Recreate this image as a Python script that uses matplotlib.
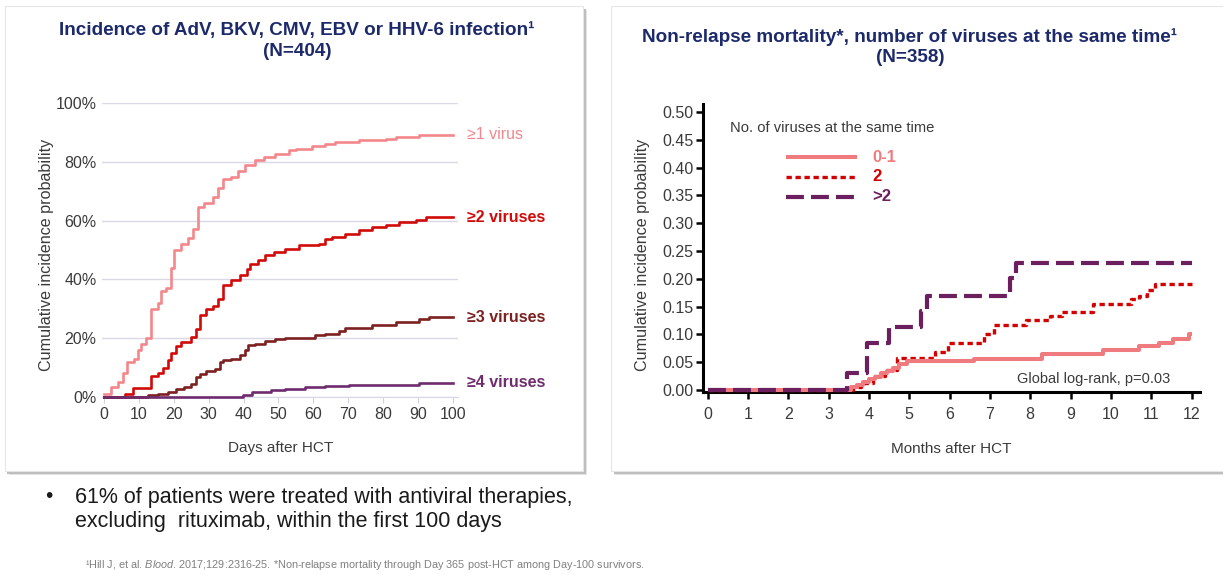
"""
Viral infection incidence and non-relapse mortality after HCT (two-panel slide).
"""

import matplotlib.pyplot as plt
from matplotlib.patches import Rectangle
from matplotlib.ticker import FuncFormatter

plt.rcParams['font.family'] = ['Liberation Sans', 'DejaVu Sans']
plt.rcParams['mathtext.fontset'] = 'custom'
plt.rcParams['mathtext.it'] = 'Liberation Sans:italic'
plt.rcParams['mathtext.rm'] = 'Liberation Sans'

W, H = 1223, 575

# Left panel: cumulative incidence (%) by number of viruses, days after HCT
days_1 = [0, 2, 4, 5.3, 6.5, 8.6, 9.6, 10.6, 12, 13.5, 15.4, 16.3, 17.8, 19.2, 20.2, 22, 24,
          25.5, 26.9, 28.8, 31.2, 32.7, 34, 36.5, 38.5, 40.4, 43.3, 46, 49, 52.9, 55, 59.6,
          63.5, 66.3, 73, 80.8, 83.7, 90.4, 100]
inc_1 = [1, 3.4, 5, 8, 12, 13, 16, 18, 20, 30, 32, 36, 37, 44, 50, 52, 54,
         57, 64.6, 66, 68, 71, 74, 75, 77, 79, 80.5, 81.6, 82.7, 83.9, 84.4, 85.5,
         86.1, 86.9, 87.3, 87.8, 88.4, 89.2, 89.2]

days_2 = [0, 6, 8.2, 13.5, 15.4, 16.8, 18.3, 19.2, 20.7, 22, 25, 26.4, 27.4, 29.3, 31.2,
          32.7, 34, 36.5, 38.9, 40.9, 41.8, 44.2, 46.2, 48.6, 51.9, 55.8, 61.5, 63.5, 65.4,
          69.2, 73, 76.9, 80.8, 84.6, 89.4, 92.3, 100]
inc_2 = [0, 1, 3, 7, 8, 10, 12.5, 15, 17.5, 18.7, 20.4, 23, 27.8, 30, 31,
         33.4, 38, 39.7, 41.4, 43.6, 45.3, 46.5, 48.2, 49.3, 50.4, 51.6, 52.1, 53.6, 54.4,
         55.5, 56.7, 57.8, 58.4, 59.5, 60.3, 61.2, 61.2]

days_3 = [0, 12.5, 15.4, 18.3, 20.7, 23, 25, 26.4, 27.4, 29.3, 31.7, 33.2, 34.1, 36.5,
          38.9, 40.4, 41.3, 43.3, 46.2, 49, 51.9, 60.6, 63.5, 67.3, 69.2, 76.9, 83.7, 90.4,
          93.3, 100]
inc_3 = [0, 0.6, 1.1, 1.7, 2.8, 3.4, 4.5, 6.8, 7.9, 8.7, 9.6, 11.9, 12.5, 13,
         14.2, 15.9, 17.6, 18.1, 19, 19.6, 20, 21, 21.5, 22.4, 23.5, 24.4, 25.5, 26.6,
         27.2, 27.2]

days_4 = [0, 39.9, 42.3, 48, 51.9, 57.7, 63.5, 70.2, 90.4, 100]
inc_4 = [0, 0.8, 1.7, 2.3, 2.8, 3.4, 3.6, 4.2, 4.8, 4.8]

left_labels = ['≥1 virus', '≥2 viruses', '≥3 viruses', '≥4 viruses']

# Right panel: non-relapse mortality by viruses at the same time, months after HCT
months_a = [0, 3.55, 3.7, 3.85, 4.0, 4.15, 4.3, 4.45, 4.6, 4.75, 4.95, 6.6, 8.3, 9.8,
            10.7, 11.2, 11.55, 11.93, 12]
nrm_a = [0, 0.005, 0.009, 0.015, 0.019, 0.024, 0.03, 0.035, 0.04, 0.047, 0.052, 0.056,
         0.065, 0.072, 0.08, 0.085, 0.092, 0.1, 0.1]

months_b = [0, 3.6, 3.8, 4.1, 4.4, 4.7, 5.65, 5.95, 6.85, 7.1, 7.9, 8.5, 8.8, 9.55,
            10.5, 10.7, 10.9, 11.1, 12]
nrm_b = [0, 0.006, 0.012, 0.025, 0.036, 0.058, 0.068, 0.085, 0.1, 0.116, 0.125, 0.133,
         0.14, 0.154, 0.163, 0.169, 0.18, 0.191, 0.191]

months_c = [0, 3.45, 3.95, 4.5, 5.3, 5.45, 7.5, 7.65, 12]
nrm_c = [0, 0.03, 0.085, 0.114, 0.142, 0.169, 0.201, 0.228, 0.228]

right_labels = ['0-1', '2', '>2']

NAVY = '#1c2a6b'
TICK_GREY = '#3a3a3a'

fig = plt.figure(figsize=(W / 100, H / 100), dpi=100)


def px_rect(x0, y0, x1, y1):
    """Convert a top-left pixel box into figure fraction [l, b, w, h]."""
    return [x0 / W, 1 - y1 / H, (x1 - x0) / W, (y1 - y0) / H]


def card(x0, y0, x1, y1):
    """Slide card with a soft grey shadow on the right/bottom."""
    for off, col in [(4, '#e4e4e4'), (2.5, '#bdbdbd')]:
        fig.patches.append(Rectangle((x0 / W + off / W, 1 - (y1 + off) / H),
                                     (x1 - x0) / W, (y1 - y0) / H,
                                     transform=fig.transFigure, facecolor=col,
                                     edgecolor='none', zorder=-2))
    fig.patches.append(Rectangle((x0 / W, 1 - y1 / H), (x1 - x0) / W, (y1 - y0) / H,
                                 transform=fig.transFigure, facecolor='white',
                                 edgecolor='#e6e6e6', linewidth=0.8, zorder=-1))


card(5, 6, 583, 471)
card(611, 6, 1240, 471)

# ---------------- Left panel ----------------
ax1 = fig.add_axes(px_rect(102.3, 103, 458, 397))
ax1.patch.set_visible(False)
ax1.set_xlim(-0.5, 101.5)
ax1.set_ylim(0, 100)
left_colors = ['#f3878b', '#d10a0a', '#7c2020', '#6e2c6e']
left_series = [(days_1, inc_1), (days_2, inc_2), (days_3, inc_3), (days_4, inc_4)]
for (x, y), c in zip(left_series, left_colors):
    ax1.step(x, y, where='post', color=c, lw=1.9, clip_on=False, zorder=3)

ax1.set_yticks([0, 20, 40, 60, 80, 100])
ax1.yaxis.set_major_formatter(FuncFormatter(lambda v, p: f'{v:.0f}%'))
ax1.set_xticks(range(0, 101, 10))
ax1.grid(axis='y', color='#d8d8e6', lw=1.0)
ax1.set_axisbelow(True)
for s in ['top', 'right', 'left']:
    ax1.spines[s].set_visible(False)
ax1.spines['bottom'].set_color('#d8d8e6')
ax1.tick_params(axis='y', length=0, labelsize=11.5, labelcolor=TICK_GREY, pad=4)
ax1.tick_params(axis='x', length=4, color='#d0d0d8', labelsize=11.5,
                labelcolor=TICK_GREY, pad=3)
ax1.set_xlabel('Days after HCT', fontsize=11, color=TICK_GREY, labelpad=14)

fig.text(47 / W, 1 - 255 / H, 'Cumulative incidence probability', rotation=90,
         ha='center', va='center', fontsize=11.6, color=TICK_GREY)

label_y = [89.2, 61.2, 27.2, 4.8]
for lab, c, yv, wt in zip(left_labels, left_colors, label_y,
                          ['normal', 'bold', 'bold', 'bold']):
    ax1.annotate(lab, xy=(100, yv), xytext=(10, 0), textcoords='offset points',
                 ha='left', va='center', fontsize=11.5, color=c, fontweight=wt)

fig.text(297 / W, 1 - 30 / H, 'Incidence of AdV, BKV, CMV, EBV or HHV-6 infection¹',
         ha='center', va='center', fontsize=13.6, fontweight='bold', color=NAVY)
fig.text(297 / W, 1 - 52 / H, '(N=404)', ha='center', va='center', fontsize=13.6,
         fontweight='bold', color=NAVY)

# ---------------- Right panel ----------------
ax2 = fig.add_axes(px_rect(703.5, 103.7, 1199.6, 392.2))
ax2.patch.set_visible(False)
ax2.set_xlim(-0.1, 12.2)
ax2.set_ylim(-0.004, 0.515)

style_a = dict(color='#f07b7e', lw=2.9, solid_capstyle='butt')
style_b = dict(color='#d40000', lw=2.4, linestyle=(0, (1.6, 1.1)))
style_c = dict(color='#6b1f5e', lw=3.0, linestyle=(0, (4.3, 1.7)))

ax2.step(months_b, nrm_b, where='post', zorder=3, clip_on=False, **style_b)
ax2.step(months_a, nrm_a, where='post', zorder=4, clip_on=False, **style_a)
ax2.step(months_c, nrm_c, where='post', zorder=5, clip_on=False, **style_c)

ax2.set_xticks(range(0, 13))
ax2.set_yticks([i * 0.05 for i in range(11)])
ax2.yaxis.set_major_formatter(FuncFormatter(lambda v, p: f'{v:.2f}'))
for s in ['top', 'right']:
    ax2.spines[s].set_visible(False)
for s in ['left', 'bottom']:
    ax2.spines[s].set_linewidth(2.2)
    ax2.spines[s].set_color('black')
ax2.tick_params(direction='out', length=5, width=1.8, color='black',
                labelsize=11.5, labelcolor=TICK_GREY)
ax2.tick_params(axis='y', pad=2)
ax2.tick_params(axis='x', pad=6)
ax2.set_xlabel('Months after HCT', fontsize=11, color=TICK_GREY, labelpad=14)

fig.text(642 / W, 1 - 255 / H, 'Cumulative incidence probability', rotation=90,
         ha='center', va='center', fontsize=11.6, color=TICK_GREY)

# legend drawn in axes fraction
ax2.text(0.053, 0.915, 'No. of viruses at the same time', transform=ax2.transAxes,
         fontsize=10.6, color=TICK_GREY, va='center', ha='left')
leg_rows = [0.815, 0.746, 0.678]
for lab, st, yy in zip(right_labels, [style_a, style_b, style_c], leg_rows):
    ax2.plot([0.167, 0.31], [yy, yy], transform=ax2.transAxes, **st)
    ax2.text(0.34, yy, lab, transform=ax2.transAxes, fontsize=12, fontweight='bold',
             color=st['color'], va='center', ha='left')

ax2.text(0.94, 0.045, 'Global log-rank, p=0.03', transform=ax2.transAxes,
         fontsize=10.5, color=TICK_GREY, ha='right', va='center')

fig.text(910 / W, 1 - 37 / H,
         'Non-relapse mortality*, number of viruses at the same time¹',
         ha='center', va='center', fontsize=13.6, fontweight='bold', color=NAVY)
fig.text(910 / W, 1 - 58 / H, '(N=358)', ha='center', va='center', fontsize=13.6,
         fontweight='bold', color=NAVY)

# ---------------- Bullet and footnote ----------------
fig.text(45 / W, 1 - 497 / H, '•', ha='left', va='center', fontsize=15, color='#1a1a1a')
fig.text(75 / W, 1 - 497 / H, '61% of patients were treated with antiviral therapies,',
         ha='left', va='center', fontsize=15.5, color='#1a1a1a')
fig.text(75 / W, 1 - 522 / H, 'excluding  rituximab, within the first 100 days',
         ha='left', va='center', fontsize=15.5, color='#1a1a1a')

fig.text(85 / W, 1 - 565 / H,
         r'¹Hill J, et al. $\it{Blood}$. 2017;129:2316-25. *Non-relapse mortality through '
         'Day 365 post-HCT among Day-100 survivors.',
         ha='left', va='center', fontsize=7.8, color='#808080')

fig.savefig('out.png', dpi=100)
